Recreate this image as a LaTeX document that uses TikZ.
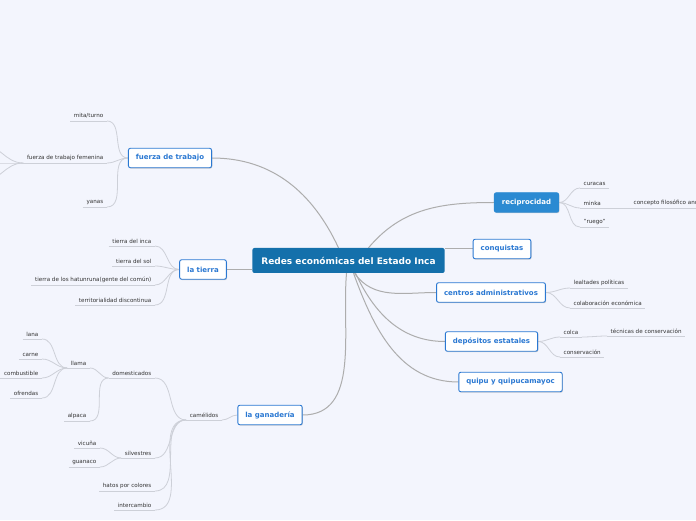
\documentclass[tikz,border=0pt]{standalone}
\usepackage{fontspec}
\setmainfont{DejaVu Sans}
\usetikzlibrary{positioning,shadows,backgrounds}
\definecolor{bgpaper}{HTML}{F3F5FD}
\definecolor{rootblue}{HTML}{1470AB}
\definecolor{recblue}{HTML}{2B8AD2}
\definecolor{topicblue}{HTML}{2A78D2}
\definecolor{stemgray}{HTML}{ADADAD}
\definecolor{twiggray}{HTML}{CDD0D8}
\tikzset{
  rootnode/.style = {rectangle, fill=rootblue, rounded corners=2pt, minimum height=25pt,
                     inner xsep=9pt, text=white, font=\bfseries\fontsize{9}{11}\selectfont},
  topic/.style = {rectangle, draw=topicblue, line width=0.9pt, fill=white, rounded corners=2pt,
                  minimum height=19.5pt, inner xsep=7.5pt, text=topicblue,
                  font=\bfseries\fontsize{7}{9}\selectfont,
                  drop shadow={shadow xshift=0.7pt, shadow yshift=-0.9pt, fill=black!30, opacity=.6}},
  leaf/.style = {inner xsep=3.5pt, inner ysep=2.5pt, text=black!80, font=\fontsize{5.6}{7}\selectfont,
                 append after command={(\tikzlastnode.south west) edge[twig] (\tikzlastnode.south east)}},
  stem/.style = {draw=stemgray, line width=1pt},
  twig/.style = {draw=twiggray, line width=0.8pt},
}

\begin{document}
\begin{tikzpicture}[x=1pt,y=1pt]

  \useasboundingbox (0,0) rectangle (696,520);

  % Central topic
  \node[rootnode] (root) at (348.5,259.5) {Redes económicas del Estado Inca};

  % === Main topics ===
  \node[topic] (fuerza) at (170,362) {fuerza de trabajo};
  \node[topic] (tierra) at (203,250.5) {la tierra};
  \node[topic] (ganad) at (270,105) {la ganadería};
  \node[topic, fill=recblue, draw=recblue, text=white] (recip) at (526.5,317.5) {reciprocidad};
  \node[topic] (conq) at (502,271) {conquistas};
  \node[topic] (centros) at (491,227.5) {centros administrativos};
  \node[topic] (depos) at (491.5,178.5) {depósitos estatales};
  \node[topic] (quipu) at (510.5,138) {quipu y quipucamayoc};

  % === Left side leaves ===
  % fuerza de trabajo
  \foreach \n/\y/\t in {mita/399/{mita/turno}, fem/357/{fuerza de trabajo femenina}, yanas/313/yanas} {
    \node[leaf, anchor=south east] (\n) at (107,\y) {\t};
  }
  \coordinate (femA) at (-20,377);
  \coordinate (femB) at (-20,357);
  \coordinate (femC) at (-20,337);

  % la tierra
  \foreach \n/\y/\t in {inca/274/tierra del inca, sol/254/tierra del sol,
                        hatun/235/tierra de los hatunruna(gente del común),
                        terr/215/territorialidad discontinua} {
    \node[leaf, anchor=south east] (\n) at (155,\y) {\t};
  }

  % la ganaderia
  \node[leaf, anchor=south east] (camel) at (222,100) {camélidos};
  \foreach \n/\y/\t in {dom/142/domesticados, silv/62/silvestres,
                        hatos/29/hatos por colores, inter/10/intercambio} {
    \node[leaf, anchor=south east] (\n) at (155,\y) {\t};
  }
  \node[leaf, anchor=south east] (llama) at (90,152) {llama};
  \node[leaf, anchor=south east] (alpaca) at (90,99) {alpaca};
  \foreach \n/\y/\t in {lana/181/lana, carne/161/carne, comb/142/combustible, ofr/122/ofrendas} {
    \node[leaf, anchor=south east] (\n) at (42,\y) {\t};
  }
  \node[leaf, anchor=south east] (vicuna) at (100,72) {vicuña};
  \node[leaf, anchor=south east] (guanaco) at (100,53) {guanaco};

  % === Right side leaves ===
  \foreach \n/\y/\t in {curacas/332/curacas, minka/312/minka, ruego/293/"ruego"} {
    \node[leaf, anchor=south west] (\n) at (580,\y) {\t};
  }
  \node[leaf, anchor=south west] (concepto) at (630,312) {concepto filosófico andino};
  \node[leaf, anchor=south west] (lealt) at (570,232) {lealtades políticas};
  \node[leaf, anchor=south west] (colab) at (570,212) {colaboración económica};
  \node[leaf, anchor=south west] (colca) at (560,183) {colca};
  \node[leaf, anchor=south west] (conserv) at (560,163) {conservación};
  \node[leaf, anchor=south west] (tecn) at (607,184) {técnicas de conservación};

  % === Connectors ===
  \begin{scope}[on background layer]
    \fill[bgpaper] (0,0) rectangle (696,520);

    % root to main topics
    \draw[stem] ([xshift=-10pt]root.north) to[out=115,in=0] (fuerza.east);
    \draw[stem] (tierra.east) -- (tierra.east -| root.west);
    \draw[stem] ([xshift=-2pt]root.south) to[out=-95,in=0] (ganad.east);
    \draw[stem] ([xshift=20pt]root.north) to[out=50,in=180] (recip.west);
    \draw[stem] (conq.west) -- (conq.west -| root.east);
    \draw[stem] ([xshift=6pt]root.south) to[out=-55,in=180] (centros.west);
    \draw[stem] ([xshift=7pt]root.south) to[out=-65,in=180] (depos.west);
    \draw[stem] ([xshift=5pt]root.south) to[out=-70,in=180] (quipu.west);

    % left branches
    \foreach \c in {mita, fem, yanas}
      \draw[twig] (fuerza.west) to[out=180,in=0] (\c.south east);
    \foreach \c in {femA, femB, femC}
      \draw[twig] (fem.south west) to[out=180,in=0] (\c);
    \foreach \c in {inca, sol, hatun, terr}
      \draw[twig] (tierra.west) to[out=180,in=0] (\c.south east);
    \draw[twig] (ganad.west) to[out=180,in=0] (camel.south east);
    \foreach \c in {dom, silv, hatos, inter}
      \draw[twig] (camel.south west) to[out=180,in=0] (\c.south east);
    \foreach \c in {llama, alpaca}
      \draw[twig] (dom.south west) to[out=180,in=0] (\c.south east);
    \foreach \c in {lana, carne, comb, ofr}
      \draw[twig] (llama.south west) to[out=180,in=0] (\c.south east);
    \foreach \c in {vicuna, guanaco}
      \draw[twig] (silv.south west) to[out=180,in=0] (\c.south east);

    % right branches
    \foreach \c in {curacas, minka, ruego}
      \draw[twig] (recip.east) to[out=0,in=180] (\c.south west);
    \draw[twig] (minka.south east) -- (concepto.south west);
    \foreach \c in {lealt, colab}
      \draw[twig] (centros.east) to[out=0,in=180] (\c.south west);
    \foreach \c in {colca, conserv}
      \draw[twig] (depos.east) to[out=0,in=180] (\c.south west);
    \draw[twig] (colca.south east) to[out=0,in=180] (tecn.south west);
  \end{scope}

\end{tikzpicture}
\end{document}
